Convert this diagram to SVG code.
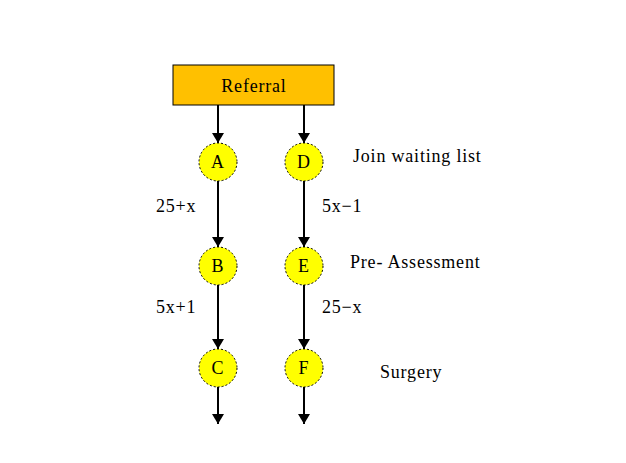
<svg xmlns="http://www.w3.org/2000/svg" width="626" height="463" viewBox="0 0 626 463">
<style>
.node circle{fill:#FFFF00;stroke:#000;stroke-width:1;stroke-dasharray:2,2}
text{font-family:"Liberation Serif","Times New Roman",serif;font-size:18px;letter-spacing:0.8px;fill:#000}
.c{text-anchor:middle}
.conn line{stroke:#000;stroke-width:2;marker-end:url(#ah)}
</style>
<defs>
<marker id="ah" viewBox="0 0 10 12" refX="10" refY="6" markerWidth="10" markerHeight="12" markerUnits="userSpaceOnUse" orient="auto">
<path d="M0,0 L10,6 L0,12 Z" fill="#000"/>
</marker>
</defs>
<rect width="626" height="463" fill="#fff"/>
<g id="referral">
<rect x="173" y="65" width="161" height="40" fill="#FFC000" stroke="#000" stroke-width="1"/>
<text x="254" y="92" class="c">Referral</text>
</g>
<g class="conn" id="connectors">
<line x1="218" y1="105" x2="218" y2="143"/>
<line x1="304" y1="105" x2="304" y2="143"/>
<line x1="218" y1="181" x2="218" y2="247"/>
<line x1="304" y1="181" x2="304" y2="247"/>
<line x1="218" y1="285" x2="218" y2="349"/>
<line x1="304" y1="285" x2="304" y2="349"/>
<line x1="218" y1="387" x2="218" y2="424"/>
<line x1="304" y1="387" x2="304" y2="424"/>
</g>
<g class="node" id="A"><circle cx="218" cy="162" r="19"/><text x="218" y="168" class="c">A</text></g>
<g class="node" id="D"><circle cx="304" cy="162" r="19"/><text x="304" y="168" class="c">D</text></g>
<g class="node" id="B"><circle cx="218" cy="266" r="19"/><text x="218" y="272" class="c">B</text></g>
<g class="node" id="E"><circle cx="304" cy="266" r="19"/><text x="304" y="272" class="c">E</text></g>
<g class="node" id="C"><circle cx="218" cy="368" r="19"/><text x="218" y="374" class="c">C</text></g>
<g class="node" id="F"><circle cx="304" cy="368" r="19"/><text x="304" y="374" class="c">F</text></g>
<g id="labels">
<text x="353" y="162">Join waiting list</text>
<text x="156" y="212">25+x</text>
<text x="322" y="212">5x−1</text>
<text x="350" y="268">Pre- Assessment</text>
<text x="156" y="313">5x+1</text>
<text x="322" y="313">25−x</text>
<text x="380" y="378">Surgery</text>
</g>
</svg>
